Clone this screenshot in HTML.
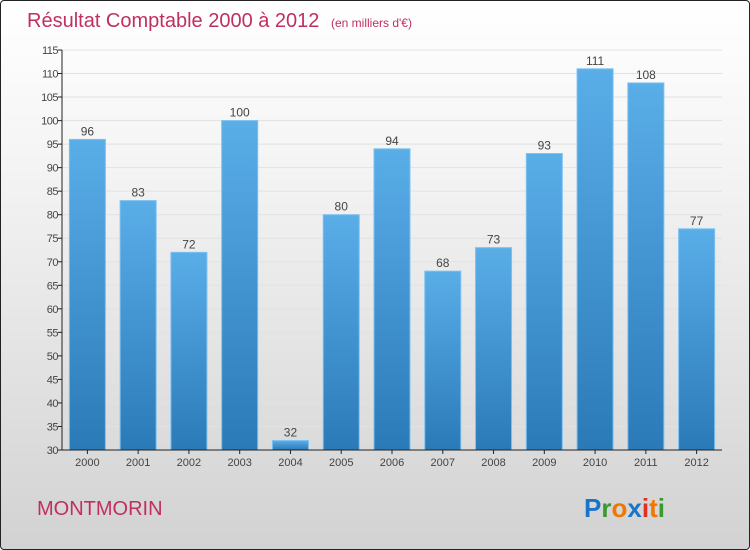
<!DOCTYPE html>
<html><head><meta charset="utf-8"><style>
body{margin:0}
#c{width:748px;height:548px;border:1px solid #222;border-radius:4px;position:relative;overflow:hidden;background:linear-gradient(#ffffff,#f4f4f4 30%,#d2d2d2);font-family:"Liberation Sans",sans-serif}
</style></head><body>
<div id="c">
<svg width="748" height="548" viewBox="0 0 748 548" id="svg">
<defs><linearGradient id="bg" x1="0" y1="0" x2="0" y2="1"><stop offset="0" stop-color="#5aaee8"/><stop offset="1" stop-color="#2a7ab8"/></linearGradient></defs>
<text x="26" y="26" font-size="20" fill="#c0305f">Résultat Comptable 2000 à 2012 <tspan font-size="12" dx="6">(en milliers d'€)</tspan></text>
<text x="36" y="514" font-size="20" fill="#c0305f">MONTMORIN</text>
<text x="583" y="516" font-size="26" font-weight="bold"><tspan fill="#1a74c8">P</tspan><tspan fill="#3a9a30">r</tspan><tspan fill="#f07800">o</tspan><tspan fill="#1a74c8">x</tspan><tspan fill="#e03020">i</tspan><tspan fill="#f07800">t</tspan><tspan fill="#3a9a30">i</tspan></text>
<g id="plot"></g>
</svg>
</div>
<script>
const categories=["2000","2001","2002","2003","2004","2005","2006","2007","2008","2009","2010","2011","2012"];
const values=[96,83,72,100,32,80,94,68,73,93,111,108,77];
const yTicks=[30,35,40,45,50,55,60,65,70,75,80,85,90,95,100,105,110,115];
const ns="http://www.w3.org/2000/svg";
const g=document.getElementById('plot');
const x0=61,x1=721,yB=449,yT=49,vMin=30,vMax=115;
const band=(x1-x0)/categories.length;
const y=v=>yB-(v-vMin)/(vMax-vMin)*(yB-yT);
const xc=i=>x0+band*(i+0.5);
function mk(t,a){const e=document.createElementNS(ns,t);for(const k in a)e.setAttribute(k,a[k]);g.appendChild(e);return e;}
yTicks.forEach(v=>{
 const l=mk('line',{x1:x0,x2:x1,y1:y(v),y2:y(v),stroke:'#e2e2e2','stroke-width':1});
 
 
 const t=mk('line',{x1:x0-4,x2:x0,y1:y(v),y2:y(v),stroke:'#222'});
 
 
 const tx=mk('text',{x:x0-4,y:y(v)+4,'text-anchor':'end','font-size':11,fill:'#444','letter-spacing':'-0.5'});
 tx.textContent=v;
 
 
});
values.forEach((v,i)=>{
 const w=36;
 const r=mk('rect',{x:xc(i)-w/2,y:y(v),width:w,height:yB-y(v),fill:'url(#bg)',stroke:'#7cc0f0','stroke-width':1});
 
 
 const t=mk('text',{x:xc(i),y:y(v)-4,'text-anchor':'middle','font-size':12,fill:'#444'});
 t.textContent=v;
 
 
 const c=mk('text',{x:xc(i),y:yB+16,'text-anchor':'middle','font-size':11,fill:'#444'});
 c.textContent=categories[i];
 
 
 const tk=mk('line',{x1:xc(i),x2:xc(i),y1:yB,y2:yB+4,stroke:'#222'});
 
 
});
const ya=mk('line',{x1:x0,x2:x0,y1:yT,y2:yB,stroke:'#222'});


const xa=mk('line',{x1:x0,x2:x1,y1:yB,y2:yB,stroke:'#222'});


</script>
</body></html>
